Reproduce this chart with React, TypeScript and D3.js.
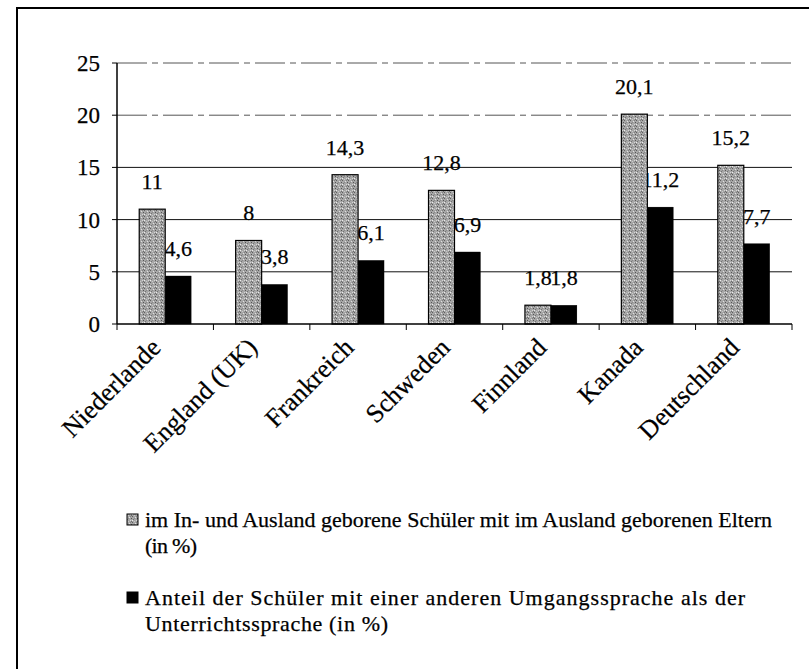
import { useEffect, useRef } from 'react';
import * as d3 from 'd3';

const countries = ['Niederlande', 'England (UK)', 'Frankreich', 'Schweden', 'Finnland', 'Kanada', 'Deutschland'];
const bornAbroadParents = [11, 8, 14.3, 12.8, 1.8, 20.1, 15.2];
const otherLanguage = [4.6, 3.8, 6.1, 6.9, 1.8, 11.2, 7.7];
const yTicks = [0, 5, 10, 15, 20, 25];
const legendLabels = [
  ['im In- und Ausland geborene Schüler mit im Ausland geborenen Eltern', '(in %)'],
  ['Anteil der Schüler mit einer anderen Umgangssprache als der', 'Unterrichtssprache (in %)'],
];
// widths the scanned legend lines take up
const legendWidths = [[627, 52], [600, 243]];

const fmt = (v: number) => String(v).replace('.', ',');
const FONT = '"Liberation Serif", "Times New Roman", serif';

export default function App() {
  const svgRef = useRef<SVGSVGElement>(null);

  useEffect(() => {
    if (!svgRef.current) return;
    const svg = d3.select(svgRef.current);
    svg.selectAll('*').remove();

    const width = 809;
    const height = 669;
    svg.attr('width', width).attr('height', height);

    // mottled grey texture for the first series
    const defs = svg.append('defs');
    const pat = defs.append('pattern')
      .attr('id', 'speckle')
      .attr('patternUnits', 'userSpaceOnUse')
      .attr('width', 6)
      .attr('height', 6);
    pat.append('rect').attr('width', 6).attr('height', 6).attr('fill', '#a6a6a6');
    const specks: [number, number, string][] = [
      [0, 0, '#5e5e5e'], [3, 1, '#e0e0e0'], [1, 3, '#727272'], [4, 4, '#d4d4d4'],
      [5, 2, '#555'], [2, 5, '#c8c8c8'], [0, 4, '#eee'], [4, 0, '#808080'],
      [2, 2, '#8a8a8a'], [5, 5, '#6a6a6a'],
    ];
    specks.forEach(([sx, sy, c]) => {
      pat.append('rect').attr('x', sx).attr('y', sy).attr('width', 1).attr('height', 1).attr('fill', c);
    });

    // frame (right and bottom edges fall outside the picture)
    svg.append('path')
      .attr('d', `M17,${height} V8 H${width}`)
      .attr('fill', 'none')
      .attr('stroke', '#000')
      .attr('stroke-width', 2);

    const left = 117, right = 792, top = 63, bottom = 324;

    const x = d3.scaleBand<string>().domain(countries).range([left, right]).padding(0);
    const x1 = d3.scaleBand<number>().domain([0, 1]).range([0, x.bandwidth()]).paddingInner(0).paddingOuter(0.855);
    const y = d3.scaleLinear().domain([0, 25]).range([bottom, top]);

    const g = svg.append('g')
      .style('font-family', FONT)
      .attr('fill', '#000')
      .attr('stroke', '#000')
      .attr('stroke-width', 0.25);

    // gridlines
    g.selectAll('line.grid')
      .data(yTicks.filter(t => t > 0))
      .enter()
      .append('line')
      .attr('x1', left)
      .attr('x2', right)
      .attr('y1', d => y(d))
      .attr('y2', d => y(d))
      .attr('stroke', d => (d >= 20 ? '#555' : '#111'))
      .attr('stroke-dasharray', d => (d >= 20 ? '30,5,6,5' : null))
      .attr('stroke-width', 1);

    // labels of the second series sit under the grey bars
    g.selectAll('text.l2')
      .data(otherLanguage)
      .enter()
      .append('text')
      .attr('x', (_, i) => (x(countries[i]) || 0) + (x1(1) || 0) + x1.bandwidth() / 2)
      .attr('y', d => y(d) - 20)
      .attr('text-anchor', 'middle')
      .attr('font-size', 22)
      .text(d => fmt(d));

    // grey bars
    g.selectAll('rect.b1')
      .data(bornAbroadParents)
      .enter()
      .append('rect')
      .attr('x', (_, i) => (x(countries[i]) || 0) + (x1(0) || 0))
      .attr('y', d => y(d))
      .attr('width', x1.bandwidth())
      .attr('height', d => bottom - y(d))
      .attr('fill', 'url(#speckle)')
      .attr('stroke', '#000')
      .attr('stroke-width', 1.2);

    // black bars
    g.selectAll('rect.b2')
      .data(otherLanguage)
      .enter()
      .append('rect')
      .attr('x', (_, i) => (x(countries[i]) || 0) + (x1(1) || 0))
      .attr('y', d => y(d))
      .attr('width', x1.bandwidth())
      .attr('height', d => bottom - y(d))
      .attr('fill', '#000');

    g.selectAll('text.l1')
      .data(bornAbroadParents)
      .enter()
      .append('text')
      .attr('x', (_, i) => (x(countries[i]) || 0) + (x1(0) || 0) + x1.bandwidth() / 2)
      .attr('y', d => y(d) - 20)
      .attr('text-anchor', 'middle')
      .attr('font-size', 22)
      .text(d => fmt(d));

    // Y axis
    g.append('line')
      .attr('x1', left).attr('x2', left)
      .attr('y1', top).attr('y2', bottom)
      .attr('stroke-width', 1.5);
    yTicks.forEach(t => {
      g.append('line')
        .attr('x1', left - 5).attr('x2', left)
        .attr('y1', y(t)).attr('y2', y(t))
        .attr('stroke-width', 1);
      g.append('text')
        .attr('x', left - 17)
        .attr('y', y(t))
        .attr('dy', '0.35em')
        .attr('text-anchor', 'end')
        .attr('font-size', 23)
        .text(t);
    });

    // X axis
    g.append('line')
      .attr('x1', left).attr('x2', right)
      .attr('y1', bottom).attr('y2', bottom)
      .attr('stroke-width', 1.5);
    [...countries.map(c => x(c) || 0), right].forEach(px => {
      g.append('line')
        .attr('x1', px).attr('x2', px)
        .attr('y1', bottom).attr('y2', bottom + 6)
        .attr('stroke-width', 1);
    });
    countries.forEach(c => {
      const cx = (x(c) || 0) + x.bandwidth() / 2 - 3;
      g.append('text')
        .attr('transform', `translate(${cx},${bottom + 25}) rotate(-45)`)
        .attr('text-anchor', 'end')
        .attr('font-size', 26)
        .text(c);
    });

    // legend
    const legend = g.append('g');
    const rowsY = [527, 605];
    legendLabels.forEach((lines, i) => {
      legend.append('rect')
        .attr('x', 127)
        .attr('y', rowsY[i] - 13)
        .attr('width', 11)
        .attr('height', 11)
        .attr('fill', i === 0 ? 'url(#speckle)' : '#000')
        .attr('stroke-width', 1);
      lines.forEach((line, j) => {
        legend.append('text')
          .attr('x', 145)
          .attr('y', rowsY[i] + j * 26)
          .attr('font-size', 22)
          .attr('textLength', legendWidths[i][j])
          .attr('lengthAdjust', 'spacing')
          .text(line);
      });
    });
  }, []);

  return (
    <div style={{ position: 'absolute', left: 0, top: 0, background: '#fff' }}>
      <svg ref={svgRef}></svg>
    </div>
  );
}
